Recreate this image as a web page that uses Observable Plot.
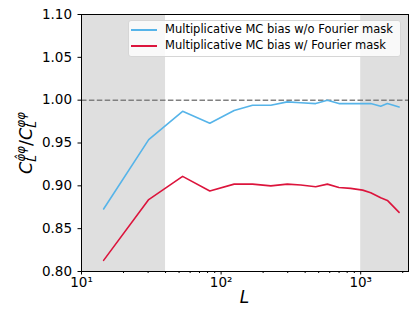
<!DOCTYPE html>
<html><head><meta charset="utf-8">
<script src="https://cdn.jsdelivr.net/npm/d3@7"></script>
<script src="https://cdn.jsdelivr.net/npm/@observablehq/plot@0.6"></script>
<style>
body{margin:0;background:#fff;font-family:"DejaVu Sans",sans-serif}
#wrap{position:relative;width:416px;height:324px}
.legend{position:absolute;left:128px;top:20px;width:273px;height:37px;border:1px solid #d6d6d6;border-radius:3px;background:rgba(255,255,255,0.8);box-sizing:border-box}
.row{position:absolute;left:0;height:14px;width:100%}
.sw{position:absolute;left:2px;top:6px;width:26px;height:2px}
.lab{position:absolute;left:36px;top:-1px;font-size:11.5px;line-height:14px;white-space:nowrap;color:#000}
</style></head>
<body><div id="wrap"></div>
<script>
// ---- data ----
const L = [14.4, 30.3, 53, 83, 124, 168, 227, 298, 372, 476, 577, 698, 847, 1033, 1180, 1391, 1553, 1884];
const ratioNoMask = [0.873, 0.954, 0.987, 0.973, 0.988, 0.994, 0.994, 0.998, 0.997, 0.996, 1.000, 0.996, 0.996, 0.996, 0.996, 0.993, 0.996, 0.992];
const ratioMask   = [0.813, 0.884, 0.911, 0.894, 0.902, 0.902, 0.900, 0.902, 0.901, 0.899, 0.902, 0.898, 0.897, 0.895, 0.892, 0.886, 0.883, 0.869];
const seriesNames = ["Multiplicative MC bias w/o Fourier mask", "Multiplicative MC bias w/ Fourier mask"];
const seriesColors = ["#56b4e9", "#dc143c"];
const shadedLo = [10, 1000];
const shadedHi = [40, 2200];
const xDomain = [10, 2200];
const yDomain = [0.80, 1.10];
const yTicks = [0.80, 0.85, 0.90, 0.95, 1.00, 1.05, 1.10];
const xMajor = [10, 100, 1000];
const xMinor = [20,30,40,50,60,70,80,90,200,300,400,500,600,700,800,900,2000];

const rowsA = L.map((l, i) => ({L: l, v: ratioNoMask[i]}));
const rowsB = L.map((l, i) => ({L: l, v: ratioMask[i]}));
const shaded = shadedLo.map((a, i) => ({a, b: shadedHi[i]}));
const sup = {"0":"⁰","1":"¹","2":"²","3":"³","4":"⁴","5":"⁵"};

const chart = Plot.plot({
  width: 416, height: 324,
  marginLeft: 81, marginRight: 8, marginTop: 14, marginBottom: 53,
  style: {fontFamily: "DejaVu Sans", fontSize: "13.5px", color: "black", background: "white"},
  x: {type: "log", domain: xDomain},
  y: {domain: yDomain},
  marks: [
    Plot.rect(shaded, {x1: "a", x2: "b", fill: "#dfdfdf"}),
    Plot.ruleY([1.0], {stroke: "#808080", strokeWidth: 1.5, strokeDasharray: "5.5,2.4"}),
    Plot.line(rowsA, {x: "L", y: "v", stroke: seriesColors[0], strokeWidth: 1.6}),
    Plot.line(rowsB, {x: "L", y: "v", stroke: seriesColors[1], strokeWidth: 1.6}),
    Plot.axisY({ticks: yTicks, tickFormat: d => d.toFixed(2), tickSize: 3.5, tickPadding: 6, label: null, fontSize: 13.5}),
    Plot.axisX({ticks: xMajor, tickFormat: d => "10" + String(Math.round(Math.log10(d))).split("").map(c => sup[c]).join(""), tickSize: 3.5, tickPadding: 2, label: null, fontSize: 13.5}),
    Plot.axisX({ticks: xMinor, tickFormat: () => "", tickSize: 2, label: null}),
    Plot.frame({stroke: "black", strokeWidth: 1})
  ]
});
const wrap = document.getElementById("wrap");
wrap.appendChild(chart);

// axis labels
const svg = d3.select(chart);
svg.append("text").attr("x", 244.5).attr("y", 303).attr("text-anchor", "middle")
  .style("font-size", "17px").style("font-style", "italic").style("font-family", "DejaVu Sans").attr("fill", "black").text("L");

const g = svg.append("g");
const t = g.append("text").style("font-family", "DejaVu Sans").style("font-size", "17.5px").attr("fill", "black");
function cterm(textEl, supTxt) {
  textEl.append("tspan").style("font-style", "italic").text("C");
  const s = textEl.append("tspan").attr("dy", -7).style("font-size", "12px").style("font-style", "italic").text(supTxt);
  const w = s.node().getComputedTextLength();
  const sb = textEl.append("tspan").attr("dx", -w).attr("dy", 11).style("font-size", "12px").style("font-style", "italic").text("L");
  const ws = sb.node().getComputedTextLength();
  return {w, ws};
}
const a = cterm(t, "φ\u0302φ");
t.append("tspan").attr("dx", a.w - a.ws).attr("dy", -4).text("/");
const b = cterm(t, "φφ");
const bb = g.node().getBBox();
g.attr("transform", `translate(26,143) rotate(-90) translate(${-bb.x - bb.width/2},${-bb.y - bb.height/2})`);

// legend
const leg = document.createElement("div");
leg.className = "legend";
seriesNames.forEach((n, i) => {
  const r = document.createElement("div");
  r.className = "row";
  r.style.top = (2 + i * 16) + "px";
  const sw = document.createElement("div");
  sw.className = "sw";
  sw.style.backgroundColor = seriesColors[i];
  const lab = document.createElement("div");
  lab.className = "lab";
  lab.textContent = n;
  r.appendChild(sw); r.appendChild(lab);
  leg.appendChild(r);
});
wrap.appendChild(leg);
</script>
</body></html>
